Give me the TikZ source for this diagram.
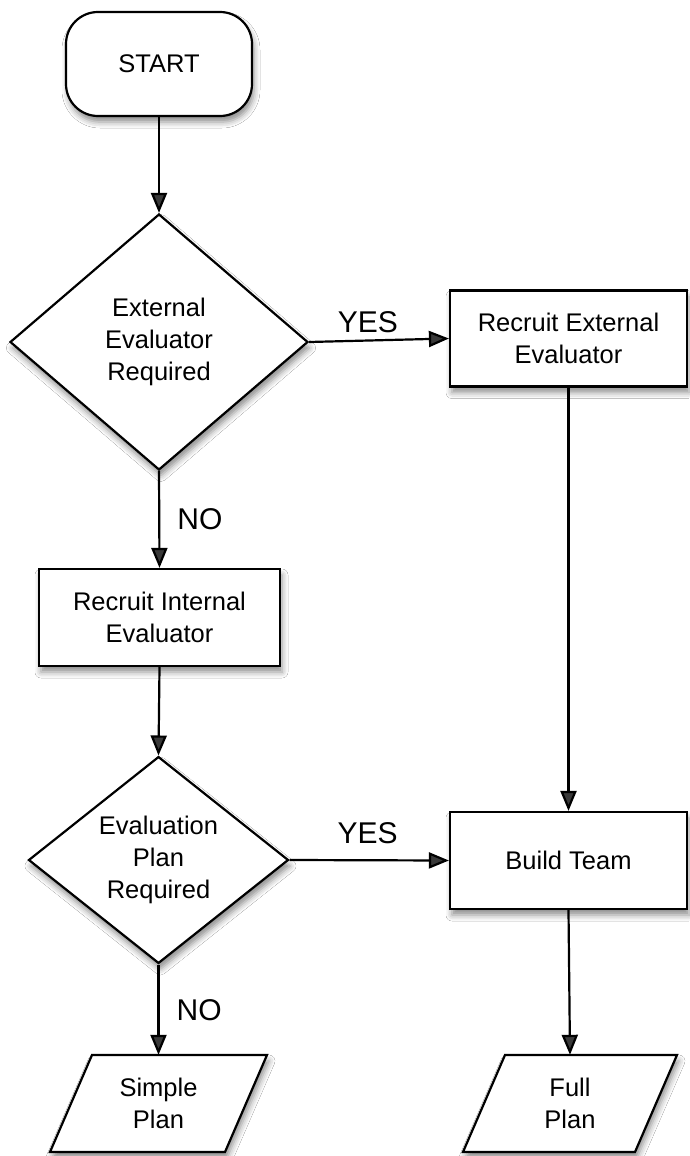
\documentclass[tikz,border=0pt]{standalone}
\usepackage{fontspec}
\setmainfont{Liberation Sans}
\usetikzlibrary{arrows.meta,shapes.geometric,shadows.blur,calc}
\begin{document}
\begin{tikzpicture}[x=1pt,y=-1pt,
  every node/.style={font=\fontsize{25.5}{32}\selectfont, align=center, text=black},
  shad/.style={blur shadow={shadow xshift=2pt,shadow yshift=-6pt,shadow blur radius=6pt,shadow opacity=45}},
  base/.style={draw=black, line width=2.2pt, fill=white, shad},
  procbox/.style={base, rectangle, inner sep=0pt},
  decision/.style={base, diamond, inner sep=0pt},
  startbox/.style={base, rectangle, rounded corners=32pt, inner sep=0pt},
  plainbox/.style={rectangle, inner sep=0pt, minimum height=97pt},
  para/.style={draw=black, line width=2.2pt, fill=white, shad},
  flow/.style={line width=2.2pt, -{Triangle[length=20pt,width=16pt]}},
  lbl/.style={font=\fontsize{30}{36}\selectfont, inner sep=0pt}
]
\useasboundingbox[fill=white] (0,0) rectangle (689,1156);

% parallelogram outlines (drawn before their text nodes)
\coordinate (sc) at (158.5,1103.5);
\coordinate (fc) at (570,1103.5);
\draw[para] ($(sc)+(-108.5,48.5)$) -- ($(sc)+(-66.5,-48.5)$) -- ($(sc)+(108.5,-48.5)$) -- ($(sc)+(66.5,48.5)$) -- cycle;
\draw[para] ($(fc)+(-107,48.5)$) -- ($(fc)+(-65,-48.5)$) -- ($(fc)+(107,-48.5)$) -- ($(fc)+(65,48.5)$) -- cycle;

\node[startbox, minimum width=186pt, minimum height=104pt] (start) at (159,64) {START};
\node[decision, minimum width=298pt, minimum height=256pt] (d1) at (159,342) {External\\Evaluator\\Required};
\node[procbox, minimum width=237pt, minimum height=96pt] (rext) at (568.5,338.5) {Recruit External\\Evaluator};
\node[procbox, minimum width=241pt, minimum height=97pt] (rint) at (159.5,617.5) {Recruit Internal\\Evaluator};
\node[decision, minimum width=260pt, minimum height=196pt] (d2) at (158.5,860) {Evaluation\\Plan\\Required};
\node[procbox, minimum width=237pt, minimum height=97pt] (team) at (568.5,860.5) {Build Team};
\node[plainbox, minimum width=217pt] (simple) at (sc) {Simple\\Plan};
\node[plainbox, minimum width=214pt] (full) at (fc) {Full\\Plan};

\draw[flow] (start.south) -- (d1.north);
\draw[flow] (d1.east) -- (rext.west) node[lbl, above=7pt, pos=0.42] {YES};
\draw[flow] (d1.south) -- (rint.north) node[lbl, right=17pt, pos=0.5] {NO};
\draw[flow] (rint.south) -- (d2.north);
\draw[flow] (d2.east) -- (team.west) node[lbl, above=15pt, pos=0.49] {YES};
\draw[flow] (d2.south) -- (simple.north) node[lbl, right=17pt, pos=0.5] {NO};
\draw[flow] (rext.south) -- (team.north);
\draw[flow] (team.south) -- (full.north);
\end{tikzpicture}
\end{document}
